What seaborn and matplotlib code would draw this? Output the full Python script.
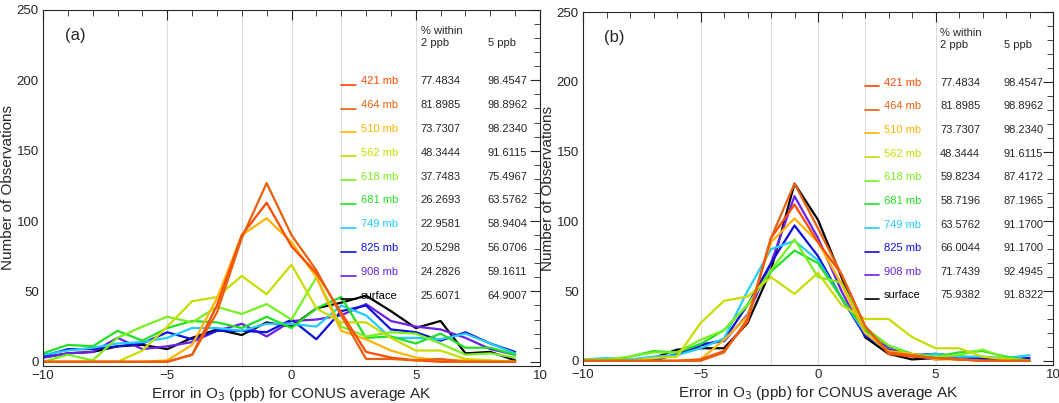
import matplotlib
matplotlib.use("Agg")
import matplotlib.pyplot as plt
from matplotlib.ticker import MultipleLocator
import seaborn as sns

sns.set_style("white")
plt.rcParams['font.family'] = ['Liberation Sans', 'DejaVu Sans']

# Data
error_bins = list(range(-10, 10))
levels = ['421 mb', '464 mb', '510 mb', '562 mb', '618 mb', '681 mb', '749 mb', '825 mb', '908 mb', 'surface']
colors = ['#ff4a00', '#e8600c', '#ffb400', '#c8dc00', '#78f020', '#22e022', '#22ccff', '#1010dd', '#6a22e6', '#000000']

counts_a = {
    '421 mb': [0, 0, 0, 0, 0, 0, 5, 40, 90, 113, 82, 63, 35, 7, 3, 1, 0, 0, 0, 0],
    '464 mb': [0, 0, 0, 0, 0, 0, 5, 35, 88, 127, 90, 65, 33, 2, 2, 1, 2, 0, 0, 0],
    '510 mb': [0, 0, 0, 0, 0, 1, 12, 45, 90, 102, 85, 60, 22, 16, 8, 3, 1, 1, 0, 0],
    '562 mb': [0, 0, 0, 0, 8, 25, 43, 46, 61, 48, 69, 38, 28, 28, 17, 8, 8, 2, 1, 0],
    '618 mb': [0, 5, 1, 17, 25, 32, 28, 39, 34, 41, 30, 60, 25, 18, 21, 20, 13, 5, 6, 3],
    '681 mb': [6, 12, 11, 22, 15, 24, 29, 28, 24, 32, 24, 38, 46, 17, 18, 13, 20, 10, 10, 5],
    '749 mb': [5, 8, 10, 13, 14, 17, 24, 24, 22, 27, 27, 25, 40, 33, 17, 17, 16, 20, 13, 6],
    '825 mb': [4, 9, 9, 11, 13, 21, 16, 22, 22, 21, 30, 16, 36, 40, 23, 21, 15, 21, 13, 7],
    '908 mb': [3, 6, 7, 17, 9, 11, 14, 22, 27, 18, 29, 30, 33, 41, 29, 25, 23, 17, 9, 5],
    'surface': [3, 6, 7, 11, 12, 9, 17, 23, 19, 28, 25, 38, 42, 47, 36, 24, 29, 6, 7, 1],
}
counts_b = {
    '421 mb': [0, 0, 0, 0, 0, 1, 7, 28, 88, 112, 85, 62, 25, 5, 3, 2, 1, 0, 0, 0],
    '464 mb': [0, 0, 0, 0, 0, 0, 6, 30, 88, 127, 95, 62, 25, 6, 4, 2, 1, 0, 0, 0],
    '510 mb': [0, 0, 0, 0, 0, 1, 15, 32, 85, 102, 85, 55, 20, 7, 5, 1, 1, 0, 0, 0],
    '562 mb': [0, 0, 0, 2, 3, 27, 43, 46, 60, 48, 63, 40, 30, 30, 17, 9, 9, 3, 1, 0],
    '618 mb': [1, 1, 3, 6, 6, 15, 22, 40, 65, 87, 60, 56, 24, 11, 4, 3, 4, 8, 2, 0],
    '681 mb': [0, 0, 3, 7, 6, 12, 22, 40, 64, 79, 70, 45, 22, 11, 5, 3, 6, 7, 3, 0],
    '749 mb': [1, 2, 1, 3, 4, 9, 16, 50, 80, 86, 72, 45, 20, 7, 3, 5, 3, 3, 2, 4],
    '825 mb': [0, 0, 0, 0, 5, 11, 15, 40, 70, 97, 75, 45, 18, 8, 4, 5, 3, 2, 1, 2],
    '908 mb': [0, 0, 0, 0, 5, 12, 14, 33, 70, 118, 88, 50, 18, 10, 4, 1, 2, 0, 0, 1],
    'surface': [0, 0, 0, 2, 8, 9, 9, 27, 65, 127, 101, 60, 17, 5, 1, 2, 1, 1, 0, 0],
}
within2_a = ['77.4834', '81.8985', '73.7307', '48.3444', '37.7483', '26.2693', '22.9581', '20.5298', '24.2826', '25.6071']
within5_a = ['98.4547', '98.8962', '98.2340', '91.6115', '75.4967', '63.5762', '58.9404', '56.0706', '59.1611', '64.9007']
within2_b = ['77.4834', '81.8985', '73.7307', '48.3444', '59.8234', '58.7196', '63.5762', '66.0044', '71.7439', '75.9382']
within5_b = ['98.4547', '98.8962', '98.2340', '91.6115', '87.4172', '87.1965', '91.1700', '91.1700', '92.4945', '91.8322']

fig = plt.figure(figsize=(10.59, 4.03), dpi=100)
ax_a = fig.add_axes([43/1059, 37/403, 497/1059, 356/403])
ax_b = fig.add_axes([583/1059, 38/403, 470/1059, 353/403])

draw_order = ['surface', '908 mb', '825 mb', '749 mb', '681 mb', '618 mb', '562 mb', '510 mb', '421 mb', '464 mb']

for ax, counts, w2, w5, tag in [(ax_a, counts_a, within2_a, within5_a, '(a)'),
                                 (ax_b, counts_b, within2_b, within5_b, '(b)')]:
    for lev in draw_order:
        c = colors[levels.index(lev)]
        sns.lineplot(x=error_bins, y=counts[lev], color=c, lw=1.6, ax=ax, legend=False)
    for gx in [-5, -2, 0, 2, 5]:
        ax.axvline(gx, color='#dddddd', lw=0.8, zorder=0)
    ax.set_xlim(-10, 10)
    ax.set_ylim(-3, 250)
    ax.xaxis.set_major_locator(MultipleLocator(5))
    ax.xaxis.set_minor_locator(MultipleLocator(1))
    ax.yaxis.set_major_locator(MultipleLocator(50))
    ax.yaxis.set_minor_locator(MultipleLocator(10))
    ax.tick_params(which='both', direction='in', top=True, right=True, labelsize=9.5, pad=3)
    ax.tick_params(which='major', length=7)
    ax.tick_params(which='minor', length=4)
    ax.set_xlabel('Error in O$_3$ (ppb) for CONUS average AK', fontsize=11, labelpad=2)
    ax.set_ylabel('Number of Observations', fontsize=11, labelpad=1)
    for s in ax.spines.values():
        s.set_linewidth(0.8)
    ax.text(0.045, 0.95, tag, transform=ax.transAxes, fontsize=12, va='top')
    ax.text(0.76, 0.955, '% within', transform=ax.transAxes, fontsize=8, va='top')
    ax.text(0.76, 0.92, '2 ppb', transform=ax.transAxes, fontsize=8, va='top')
    ax.text(0.895, 0.92, '5 ppb', transform=ax.transAxes, fontsize=8, va='top')
    for i, lev in enumerate(levels):
        yy = 0.80 - i * 0.067
        ax.plot([0.60, 0.63], [yy - 0.01, yy - 0.01], color=colors[i], lw=1.2, transform=ax.transAxes)
        ax.text(0.64, yy, lev, color=colors[i], transform=ax.transAxes, fontsize=8, va='center')
        ax.text(0.76, yy, w2[i], transform=ax.transAxes, fontsize=8, va='center')
        ax.text(0.895, yy, w5[i], transform=ax.transAxes, fontsize=8, va='center')

fig.savefig('out.png', dpi=100)
